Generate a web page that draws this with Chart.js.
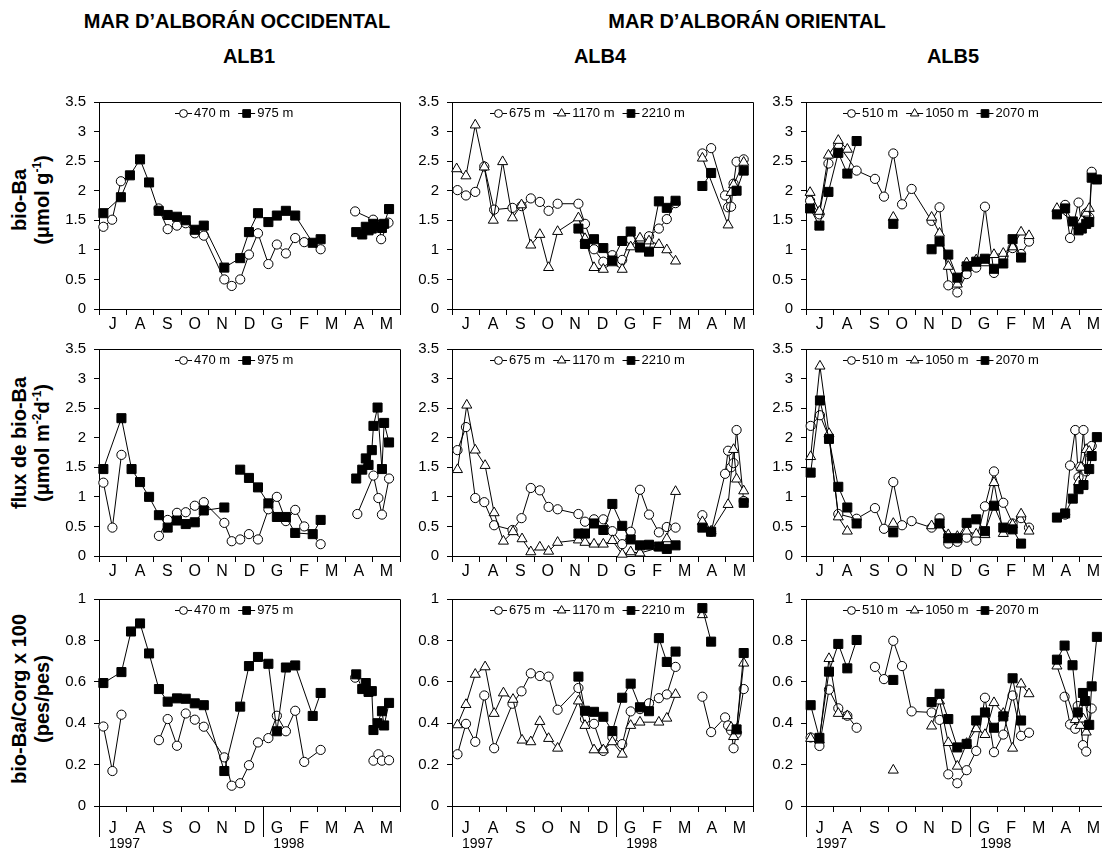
<!DOCTYPE html>
<html>
<head>
<meta charset="utf-8">
<script src="https://cdn.jsdelivr.net/npm/chart.js@4.4.1/dist/chart.umd.min.js"></script>
<style>
  html, body { margin: 0; padding: 0; background: #fff; }
  body { position: relative; width: 1102px; height: 849px; overflow: hidden;
         font-family: "Liberation Sans", Arial, sans-serif; color: #000; }
  canvas { position: absolute; }
  .hdr { position: absolute; font-weight: bold; font-size: 20px; white-space: nowrap;
         transform: translate(-50%, -50%); }
  .ytitle { position: absolute; font-weight: bold; font-size: 20px; line-height: 23px;
            white-space: nowrap; text-align: center;
            transform: translate(-50%, -50%) rotate(-90deg); }
  .ytitle sup { font-size: 12px; line-height: 0; }
</style>
</head>
<body>
<div class="hdr" style="left:237px; top:21px;">MAR D’ALBORÁN OCCIDENTAL</div>
<div class="hdr" style="left:747px; top:21px;">MAR D’ALBORÁN ORIENTAL</div>
<div class="hdr" style="left:249px; top:56px;">ALB1</div>
<div class="hdr" style="left:600px; top:56px;">ALB4</div>
<div class="hdr" style="left:953px; top:56px;">ALB5</div>
<div class="ytitle" style="left:31px; top:200px;">bio-Ba<br>(μmol g<sup>-1</sup>)</div>
<div class="ytitle" style="left:31px; top:443px;">flux de bio-Ba<br>(μmol m<sup>-2</sup>d<sup>-1</sup>)</div>
<div class="ytitle" style="left:31px; top:699px;">bio-Ba/Corg x 100<br>(pes/pes)</div>

<script>
// Month initials (Catalan), July 1997 – May 1998, and the year captions
const MONTHS = ['J', 'A', 'S', 'O', 'N', 'D', 'G', 'F', 'M', 'A', 'M'];
const YEARS = ['1997', '1998'];
const YEAR_STARTS = [0, 6];

// Sample times are in months counted from 1 July 1997; a null value breaks the line.

// ---- ALB1 ----
const alb1Ba470T = [0.16,0.48,0.80,1.5,2.18,2.51,2.85,3.17,3.50,3.83,4.58,4.85,5.16,5.48,5.81,6.19,6.50,6.83,7.17,7.50,8.10,8.7,9.36,10.02,10.24,10.31,10.58];
const alb1Ba470  = [1.39,1.51,2.16,null,1.70,1.35,1.41,1.45,1.28,1.24,0.50,0.39,0.50,0.92,1.28,0.76,1.09,0.94,1.20,1.13,1.01,null,1.65,1.51,1.42,1.18,1.46];
const alb1Ba975T = [0.16,0.80,1.13,1.50,1.83,2.18,2.51,2.85,3.17,3.50,3.83,4.58,5.16,5.48,5.81,6.19,6.50,6.83,7.17,7.81,8.10,8.7,9.40,9.62,9.75,9.85,9.97,10.03,10.18,10.34,10.42,10.60];
const alb1Ba975  = [1.62,1.89,2.26,2.53,2.14,1.66,1.59,1.56,1.50,1.34,1.41,0.70,0.86,1.30,1.62,1.47,1.58,1.66,1.58,1.12,1.18,null,1.30,1.26,1.39,1.33,1.36,1.44,1.40,1.37,1.44,1.69];

const alb1Flux470T = [0.16,0.49,0.82,1.5,2.19,2.51,2.85,3.17,3.50,3.83,4.58,4.85,5.16,5.48,5.81,6.19,6.50,6.83,7.17,7.50,8.10,8.7,9.44,10.03,10.21,10.34,10.60];
const alb1Flux470  = [1.24,0.48,1.71,null,0.34,0.61,0.73,0.74,0.85,0.91,0.56,0.25,0.28,0.37,0.28,0.79,1.00,0.59,0.78,0.50,0.20,null,0.71,1.36,0.98,0.70,1.31];
const alb1Flux975T = [0.16,0.82,1.19,1.50,1.83,2.19,2.51,2.85,3.17,3.50,3.83,4.58,4.9,5.16,5.48,5.81,6.19,6.50,6.83,7.17,7.81,8.10,8.7,9.40,9.62,9.75,9.85,9.97,10.03,10.18,10.34,10.42,10.60];
const alb1Flux975  = [1.47,2.33,1.47,1.25,1.00,0.69,0.48,0.60,0.54,0.57,0.77,0.82,null,1.46,1.32,1.16,0.89,0.66,0.66,0.39,0.37,0.61,null,1.31,1.46,1.65,1.54,1.79,2.20,2.51,1.47,2.25,1.92];

const alb1Ratio470T = [0.16,0.49,0.82,1.5,2.19,2.51,2.85,3.17,3.50,3.83,4.58,4.85,5.16,5.48,5.81,6.19,6.50,6.83,7.17,7.50,8.10,8.7,9.36,9.7,10.03,10.21,10.34,10.60];
const alb1Ratio470  = [0.384,0.169,0.441,null,0.318,0.420,0.291,0.447,0.417,0.383,0.235,0.098,0.110,0.197,0.307,0.328,0.436,0.361,0.460,0.213,0.271,null,0.620,null,0.219,0.250,0.219,0.221];
const alb1Ratio975T = [0.16,0.82,1.17,1.50,1.83,2.19,2.51,2.85,3.17,3.50,3.83,4.58,5.16,5.48,5.81,6.19,6.50,6.83,7.17,7.81,8.10,8.7,9.40,9.62,9.75,9.85,9.97,10.03,10.18,10.34,10.42,10.60];
const alb1Ratio975  = [0.594,0.647,0.843,0.882,0.737,0.565,0.504,0.520,0.518,0.496,0.487,0.169,0.480,0.676,0.720,0.687,0.361,0.669,0.679,0.435,0.546,null,0.636,0.565,0.594,0.551,0.555,0.367,0.400,0.458,0.389,0.498];

// ---- ALB4 ----
const alb4T675 = [0.20,0.51,0.85,1.18,1.54,2.21,2.54,2.88,3.21,3.53,3.86,4.62,4.86,5.19,5.53,5.86,6.22,6.53,6.87,7.20,7.56,7.85,8.17,8.7,9.15,9.47,9.98,10.09,10.20,10.29,10.40,10.66];
const alb4Ba675    = [2.01,1.92,1.98,2.41,1.68,1.71,1.74,1.87,1.81,1.66,1.78,1.78,1.44,1.01,0.80,0.91,0.83,1.18,1.13,1.23,1.36,1.52,1.79,null,2.63,2.72,1.92,1.72,1.73,2.12,2.49,2.53];
const alb4Flux675  = [1.79,2.18,0.98,0.91,0.52,0.44,0.64,1.15,1.11,0.83,0.79,0.71,0.58,0.62,0.62,0.42,0.20,0.41,1.12,0.70,0.40,0.49,0.48,null,0.69,0.41,1.39,1.78,1.50,1.57,2.13,0.93];
const alb4Ratio675 = [0.250,0.397,0.310,0.534,0.279,0.494,0.554,0.641,0.628,0.625,0.465,0.570,0.420,0.397,0.266,0.332,0.299,0.457,0.468,0.496,0.521,0.539,0.672,null,0.528,0.357,0.428,0.389,0.365,0.279,0.350,0.565];

const alb4Ba1170T = [0.17,0.51,0.85,1.18,1.51,1.85,2.21,2.54,2.88,3.21,3.53,3.86,4.62,4.86,5.19,5.53,5.86,6.22,6.53,6.87,7.20,7.56,7.85,8.17,8.7,9.15,10.09,10.20,10.29,10.66];
const alb4Ba1170  = [2.37,2.25,3.11,2.40,1.50,2.49,1.54,1.76,1.08,1.26,0.70,1.31,1.54,1.19,0.70,0.67,0.78,0.67,1.05,1.20,1.15,1.09,1.00,0.81,null,2.55,1.42,1.97,2.10,2.48];
const alb4Flux1170T = [0.20,0.54,0.85,1.21,1.54,1.88,2.23,2.56,2.88,3.21,3.53,3.86,4.62,4.86,5.19,5.53,5.86,6.22,6.53,6.87,7.56,7.85,8.17,8.7,9.15,9.47,10.09,10.29,10.40,10.66];
const alb4Flux1170  = [1.46,2.55,1.79,1.53,0.73,0.25,0.41,0.29,0.07,0.15,0.08,0.23,0.27,0.23,0.20,0.20,0.26,0.03,0.07,0.05,0.14,0.29,1.09,null,0.58,0.42,0.87,1.80,1.30,1.10];
const alb4Ratio1170T = [0.20,0.51,0.85,1.21,1.54,1.88,2.23,2.56,2.88,3.21,3.53,3.86,4.62,4.86,5.19,5.53,5.86,6.22,6.53,6.87,7.56,7.85,8.17,8.7,9.15,9.6,10.20,10.29,10.40,10.66];
const alb4Ratio1170  = [0.392,0.490,0.636,0.672,0.447,0.546,0.515,0.318,0.310,0.408,0.326,0.279,0.507,0.389,0.271,0.271,0.310,0.250,0.389,0.405,0.405,0.424,0.539,null,0.924,null,0.380,0.335,0.370,0.690];

const alb4Ba2210T = [4.62,4.86,5.19,5.53,5.86,6.22,6.53,6.87,7.20,7.56,7.85,8.17,8.7,9.15,9.47,9.8,10.40,10.66];
const alb4Ba2210  = [1.36,1.10,1.18,1.03,0.82,1.15,1.31,1.04,0.97,1.82,1.71,1.83,null,2.08,2.30,null,2.00,2.34];
const alb4Flux2210T = [4.62,4.86,5.19,5.53,5.86,6.22,6.53,6.87,7.20,7.56,7.85,8.17,8.7,9.15,9.47,9.8,10.66];
const alb4Flux2210  = [0.38,0.38,0.55,0.44,0.88,0.51,0.28,0.18,0.19,0.16,0.12,0.18,null,0.48,0.41,null,0.90];
const alb4Ratio2210T = [4.62,4.86,5.19,5.53,5.86,6.22,6.53,6.87,7.20,7.56,7.85,8.17,8.7,9.15,9.47,9.8,10.40,10.66];
const alb4Ratio2210  = [0.625,0.460,0.455,0.431,0.362,0.523,0.591,0.477,0.458,0.811,0.696,0.746,null,0.956,0.794,null,0.370,0.739];

// ---- ALB5 ----
const alb5Ba510T = [0.15,0.49,0.82,1.18,1.85,2.52,2.85,3.19,3.51,3.86,4.59,4.88,5.20,5.53,5.87,6.22,6.54,6.87,7.21,7.55,7.86,8.15,8.7,9.47,9.65,9.96,10.08,10.24,10.35,10.44];
const alb5Ba510  = [1.83,1.60,2.46,2.78,2.34,2.20,1.90,2.63,1.77,2.03,1.49,1.72,0.40,0.28,0.59,0.70,1.73,0.61,0.88,1.03,0.93,1.14,null,1.76,1.20,1.80,1.40,1.62,1.55,2.32];
const alb5Ba1050T = [0.15,0.49,0.82,1.18,1.51,2.0,3.19,3.5,4.59,4.88,5.20,5.53,5.87,6.22,6.54,6.87,7.21,7.55,7.86,8.15,8.7,9.17,9.96,10.08,10.24,10.35];
const alb5Ba1050  = [1.97,1.65,2.60,2.85,2.70,null,1.55,null,1.55,1.28,0.72,0.42,0.78,0.83,0.78,0.92,0.94,1.05,1.30,1.24,null,1.70,1.40,1.50,1.62,1.70];
const alb5Ba2070T = [0.15,0.49,0.82,1.18,1.51,1.85,2.5,3.19,3.5,4.59,4.88,5.20,5.53,5.87,6.22,6.54,6.87,7.21,7.55,7.86,8.7,9.17,9.47,9.75,9.96,10.08,10.24,10.35,10.44,10.63];
const alb5Ba2070  = [1.70,1.41,1.98,2.64,2.29,2.84,null,1.44,null,1.01,1.14,0.92,0.53,0.72,0.80,0.85,0.68,0.77,1.18,0.87,null,1.60,1.70,1.48,1.33,1.36,1.44,1.47,2.22,2.19];

const alb5Flux510T = [0.17,0.51,0.84,1.18,1.85,2.52,2.85,3.19,3.51,3.86,4.59,4.88,5.20,5.53,5.87,6.22,6.54,6.87,7.21,7.55,7.86,8.15,8.7,9.47,9.65,9.84,9.96,10.02,10.14,10.24,10.35,10.44];
const alb5Flux510  = [2.20,2.38,2.01,0.71,0.63,0.81,0.46,1.25,0.52,0.59,0.48,0.64,0.21,0.24,0.31,0.26,0.84,1.43,0.90,0.55,0.64,0.48,null,0.70,1.53,2.13,1.33,1.51,2.13,1.43,1.75,1.86];
const alb5Flux1050T = [0.17,0.51,0.84,1.18,1.51,2.0,3.19,3.5,4.59,4.88,5.20,5.53,5.87,6.22,6.54,6.87,7.21,7.55,7.86,8.15,8.7,9.96,10.05,10.24,10.35];
const alb5Flux1050  = [1.68,3.21,2.07,0.66,0.42,null,0.55,null,0.51,0.53,0.36,0.33,0.42,0.37,0.36,1.24,0.38,0.53,0.71,0.42,null,1.25,1.50,1.80,1.77];
const alb5Flux2070T = [0.17,0.51,0.84,1.18,1.51,1.85,2.5,3.19,3.5,4.88,5.20,5.53,5.87,6.22,6.54,6.87,7.21,7.55,7.86,8.7,9.17,9.47,9.75,9.96,10.14,10.35,10.44,10.63];
const alb5Flux2070  = [1.41,2.63,1.98,1.17,0.82,0.55,null,0.40,null,0.55,0.30,0.30,0.56,0.62,0.42,0.85,0.48,0.45,0.21,null,0.65,0.72,0.97,1.13,1.20,1.47,1.69,2.01];

const alb5Ratio510T = [0.17,0.49,0.84,1.18,1.51,1.85,2.2,2.52,2.85,3.19,3.51,3.86,4.59,4.88,5.20,5.53,5.87,6.22,6.54,6.87,7.21,7.55,7.86,8.15,8.7,9.45,9.65,9.84,9.93,10.02,10.12,10.24,10.44];
const alb5Ratio510  = [0.331,0.290,0.562,0.472,0.436,0.378,null,0.672,0.613,0.798,0.676,0.457,0.452,0.416,0.153,0.110,0.173,0.266,0.523,0.260,0.345,0.534,0.339,0.354,null,0.528,0.394,0.373,0.483,0.428,0.294,0.263,0.471];
const alb5Ratio1050T = [0.17,0.49,0.84,1.18,1.51,2.0,3.19,3.5,4.59,4.88,5.20,5.53,5.87,6.22,6.54,6.87,7.21,7.55,7.86,8.15,8.7,9.17,9.84,10.02,10.14,10.24];
const alb5Ratio1050  = [0.326,0.318,0.712,0.447,0.436,null,0.173,null,0.386,0.507,0.306,0.192,0.302,0.373,0.345,0.499,0.447,0.279,0.589,0.542,null,0.676,0.417,0.389,0.420,0.357];
const alb5Ratio2070T = [0.17,0.49,0.84,1.18,1.51,1.85,2.5,3.19,3.5,4.59,4.88,5.20,5.53,5.87,6.22,6.54,6.87,7.21,7.55,7.86,8.7,9.17,9.45,9.74,9.93,10.12,10.20,10.35,10.44,10.63];
const alb5Ratio2070  = [0.487,0.329,0.649,0.783,0.665,0.802,null,0.609,null,0.502,0.542,0.420,0.283,0.300,0.413,0.452,0.378,0.433,0.617,0.413,null,0.707,0.775,0.680,0.452,0.546,0.507,0.392,0.578,0.817];

// ---- layout ----
const FONT = '"Liberation Sans", Arial, sans-serif';
const COL_LEFT = [99, 452, 806];
const ROW_TOP = [97, 344, 594];
const PLOT_W = 301, PLOT_H = 212;
const YW = 50, PAD_T = 12, PAD_R = 8;
const XH = 28, XH_LAST = 30, X2H = 20;

const MARKERS = {
  circle:   { pointStyle: 'circle',   pointRadius: 4.6, fill: '#fff', order: 3 },
  triangle: { pointStyle: 'triangle', pointRadius: 5.8, fill: '#fff', order: 2 },
  rect:     { pointStyle: 'rect',     pointRadius: 6.4, fill: '#000', order: 1 }
};

function S(label, marker, t, v) { return { label, marker, t, v }; }

const PANELS = [
  { col: 0, row: 0, yMax: 3.5, step: 0.5, series: [S('470 m', 'circle', alb1Ba470T, alb1Ba470), S('975 m', 'rect', alb1Ba975T, alb1Ba975)] },
  { col: 1, row: 0, yMax: 3.5, step: 0.5, series: [S('675 m', 'circle', alb4T675, alb4Ba675), S('1170 m', 'triangle', alb4Ba1170T, alb4Ba1170), S('2210 m', 'rect', alb4Ba2210T, alb4Ba2210)] },
  { col: 2, row: 0, yMax: 3.5, step: 0.5, series: [S('510 m', 'circle', alb5Ba510T, alb5Ba510), S('1050 m', 'triangle', alb5Ba1050T, alb5Ba1050), S('2070 m', 'rect', alb5Ba2070T, alb5Ba2070)] },
  { col: 0, row: 1, yMax: 3.5, step: 0.5, series: [S('470 m', 'circle', alb1Flux470T, alb1Flux470), S('975 m', 'rect', alb1Flux975T, alb1Flux975)] },
  { col: 1, row: 1, yMax: 3.5, step: 0.5, series: [S('675 m', 'circle', alb4T675, alb4Flux675), S('1170 m', 'triangle', alb4Flux1170T, alb4Flux1170), S('2210 m', 'rect', alb4Flux2210T, alb4Flux2210)] },
  { col: 2, row: 1, yMax: 3.5, step: 0.5, series: [S('510 m', 'circle', alb5Flux510T, alb5Flux510), S('1050 m', 'triangle', alb5Flux1050T, alb5Flux1050), S('2070 m', 'rect', alb5Flux2070T, alb5Flux2070)] },
  { col: 0, row: 2, yMax: 1, step: 0.2, series: [S('470 m', 'circle', alb1Ratio470T, alb1Ratio470), S('975 m', 'rect', alb1Ratio975T, alb1Ratio975)] },
  { col: 1, row: 2, yMax: 1, step: 0.2, series: [S('675 m', 'circle', alb4T675, alb4Ratio675), S('1170 m', 'triangle', alb4Ratio1170T, alb4Ratio1170), S('2210 m', 'rect', alb4Ratio2210T, alb4Ratio2210)] },
  { col: 2, row: 2, yMax: 1, step: 0.2, series: [S('510 m', 'circle', alb5Ratio510T, alb5Ratio510), S('1050 m', 'triangle', alb5Ratio1050T, alb5Ratio1050), S('2070 m', 'rect', alb5Ratio2070T, alb5Ratio2070)] }
];

// draws one marker shape (used for the inset key)
function drawMarker(ctx, style, r, x, y, fill) {
  ctx.beginPath();
  if (style === 'circle') {
    ctx.arc(x, y, r, 0, Math.PI * 2);
  } else if (style === 'rect') {
    const h = r * Math.SQRT1_2;
    ctx.rect(x - h, y - h, 2 * h, 2 * h);
  } else {
    const w = r * Math.sin(Math.PI * 2 / 3);
    ctx.moveTo(x, y - r);
    ctx.lineTo(x + w, y + r / 2);
    ctx.lineTo(x - w, y + r / 2);
    ctx.closePath();
  }
  ctx.fillStyle = fill;
  ctx.fill();
  ctx.strokeStyle = '#000';
  ctx.lineWidth = 1;
  ctx.stroke();
}

// key drawn inside the top of the plot area: line – marker – depth label
const insetKey = {
  id: 'insetKey',
  afterDatasetsDraw(chart, args, opts) {
    const { ctx, chartArea: a } = chart;
    ctx.save();
    ctx.font = '13px ' + FONT;
    ctx.textBaseline = 'middle';
    const y = Math.round(a.top + 11) + 0.5;
    const SAMPLE = 17, GAP_TXT = 2, GAP_ITEM = 8;
    const items = chart.data.datasets.map(ds => ({ ds, w: SAMPLE + GAP_TXT + ctx.measureText(ds.label).width }));
    const total = items.reduce((s, it) => s + it.w, 0) + GAP_ITEM * (items.length - 1);
    let x = Math.round(a.left + opts.center - total / 2);
    for (const it of items) {
      ctx.strokeStyle = '#000';
      ctx.lineWidth = 1;
      ctx.beginPath();
      ctx.moveTo(x, y);
      ctx.lineTo(x + SAMPLE, y);
      ctx.stroke();
      drawMarker(ctx, it.ds.pointStyle, it.ds.pointRadius * 0.85, x + SAMPLE / 2, y, it.ds.pointBackgroundColor);
      ctx.fillStyle = '#000';
      ctx.fillText(it.ds.label, x + SAMPLE + GAP_TXT, y);
      x += it.w + GAP_ITEM;
    }
    ctx.restore();
  }
};

// top and right frame lines, plus the long year-boundary marks on the bottom row
const frame = {
  id: 'frame',
  beforeDatasetsDraw(chart, args, opts) {
    const { ctx, chartArea: a } = chart;
    const xs = chart.scales.x;
    ctx.save();
    ctx.strokeStyle = '#000';
    ctx.lineWidth = 1;
    const t = Math.round(a.top) + 0.5, r = Math.round(a.right) + 0.5;
    ctx.beginPath();
    ctx.moveTo(Math.round(a.left), t);
    ctx.lineTo(r, t);
    ctx.lineTo(r, Math.round(a.bottom));
    ctx.stroke();
    if (opts.years) {
      const b = Math.round(a.bottom);
      ctx.beginPath();
      for (const v of YEAR_STARTS) {
        const px = Math.round(xs.getPixelForValue(v)) + 0.5;
        ctx.moveTo(px, b);
        ctx.lineTo(px, b + opts.yearTick);
      }
      ctx.stroke();
    }
    ctx.restore();
  }
};

const HALF_TICKS = Array.from({ length: MONTHS.length * 2 + 1 }, (_, i) => i / 2);

function makePanel(p) {
  const last = p.row === 2;
  const xh = last ? XH_LAST : XH;
  const x2h = last ? X2H : 0;
  const w = YW + PLOT_W + PAD_R;
  const h = PAD_T + PLOT_H + xh + x2h;
  const cv = document.createElement('canvas');
  cv.width = w; cv.height = h;
  cv.style.left = (COL_LEFT[p.col] - YW) + 'px';
  cv.style.top = (ROW_TOP[p.row] - PAD_T) + 'px';
  cv.style.width = w + 'px';
  cv.style.height = h + 'px';
  document.body.appendChild(cv);

  const datasets = p.series.map(s => {
    const m = MARKERS[s.marker];
    return {
      label: s.label,
      data: s.t.map((x, i) => ({ x, y: s.v[i] })),
      xAxisID: 'x', yAxisID: 'y',
      borderColor: '#000', borderWidth: 1, tension: 0, spanGaps: false, clip: false,
      pointStyle: m.pointStyle, pointRadius: m.pointRadius,
      pointBackgroundColor: m.fill, pointBorderColor: '#000', pointBorderWidth: 1,
      order: m.order
    };
  });

  const scales = {
    x: {
      type: 'linear', min: 0, max: MONTHS.length, position: 'bottom',
      afterBuildTicks: s => { s.ticks = HALF_TICKS.map(v => ({ value: v })); },
      afterFit: s => { s.height = xh; },
      ticks: {
        autoSkip: false, maxRotation: 0, minRotation: 0, padding: last ? 7 : 0,
        color: '#000', font: { family: FONT, size: 16 },
        callback: v => Number.isInteger(v) ? '' : MONTHS[Math.floor(v)]
      },
      grid: {
        drawOnChartArea: false, drawTicks: true, tickLength: 6, tickWidth: 1,
        tickColor: c => (c.tick && Number.isInteger(c.tick.value)) ? '#000' : 'rgba(0,0,0,0)'
      },
      border: { display: true, color: '#000', width: 1 }
    },
    y: {
      type: 'linear', min: 0, max: p.yMax, position: 'left',
      afterFit: s => { s.width = YW; },
      ticks: {
        stepSize: p.step, padding: 8, color: '#000', font: { family: FONT, size: 15 },
        callback: v => String(+v.toFixed(1))
      },
      grid: { drawOnChartArea: false, drawTicks: true, tickLength: 5, tickColor: '#000' },
      border: { display: true, color: '#000', width: 1 }
    }
  };
  if (last) {
    scales.x2 = {
      type: 'linear', min: 0, max: MONTHS.length, position: 'bottom',
      afterBuildTicks: s => { s.ticks = YEAR_STARTS.map(v => ({ value: v })); },
      afterFit: s => { s.height = x2h; },
      ticks: {
        autoSkip: false, maxRotation: 0, minRotation: 0, align: 'start', labelOffset: 10, padding: 0,
        color: '#000', font: { family: FONT, size: 14 },
        callback: (v, i) => YEARS[i]
      },
      grid: { display: false, drawTicks: false },
      border: { display: false }
    };
  }

  new Chart(cv, {
    type: 'line',
    data: { datasets },
    options: {
      responsive: false, animation: false, devicePixelRatio: 1, events: [],
      layout: { padding: { top: PAD_T, left: 0, right: PAD_R, bottom: 0 } },
      plugins: {
        legend: { display: false }, tooltip: { enabled: false },
        insetKey: { center: 135 },
        frame: { years: last, yearTick: 31 }
      },
      scales
    },
    plugins: [insetKey, frame]
  });
}

PANELS.forEach(makePanel);
</script>
</body>
</html>
